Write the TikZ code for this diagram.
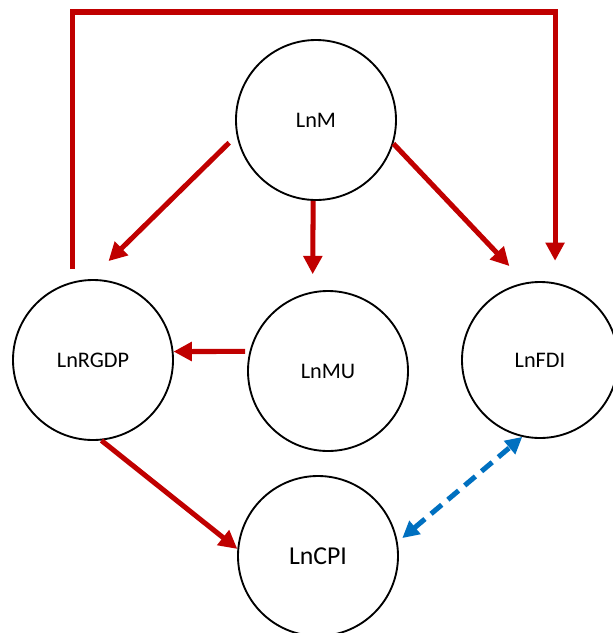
\documentclass[tikz,border=0pt]{standalone}
\usepackage{fontspec}
\setmainfont{Carlito}
\usetikzlibrary{arrows.meta}
\definecolor{darkred}{RGB}{192,0,0}
\definecolor{dashblue}{RGB}{0,112,192}
\tikzset{
  var/.style={draw, circle, line width=1.6pt, minimum size=4.8cm, inner sep=0pt, font=\fontsize{19}{22}\selectfont},
  link/.style={draw=darkred, line width=4.3pt, -{Triangle[length=0.55cm,width=0.55cm]}},
  corr/.style={draw=dashblue, line width=4.3pt, dash pattern=on 0.42cm off 0.24cm,
    {Triangle[length=0.5cm,width=0.5cm]}-{Triangle[length=0.5cm,width=0.5cm]}}
}
\begin{document}
\begin{tikzpicture}[x=0.03cm, y=-0.03cm]
\useasboundingbox (0,0) rectangle (613,633);
\node[var] (m) at (316,120) {LnM};
\node[var] (rgdp) at (93,360) {LnRGDP};
\node[var] (mu) at (328,371) {LnMU};
\node[var, minimum size=4.68cm] (fdi) at (540,360) {LnFDI};
\node[var, font=\fontsize{22}{26}\selectfont] (cpi) at (318,556) {LnCPI};
\coordinate (top) at (313,12);
\draw[link, shorten <=0.31cm, shorten >=0.77cm] (m.191) -- (rgdp.92);
\draw[link, shorten >=0.52cm] (m.268) -- (mu.101);
\draw[link, shorten >=0.68cm] (m.343) -- (fdi.101);
\draw[link, shorten <=0.38cm, shorten >=0.65cm] (rgdp.105) |- (top) -| (fdi.79);
\draw[link, shorten <=0.13cm] (mu.166) -- (rgdp.6);
\draw[link] (rgdp.276) -- (cpi.175);
\draw[corr, shorten <=0.18cm] (cpi.10) -- (fdi.257);
\end{tikzpicture}
\end{document}
